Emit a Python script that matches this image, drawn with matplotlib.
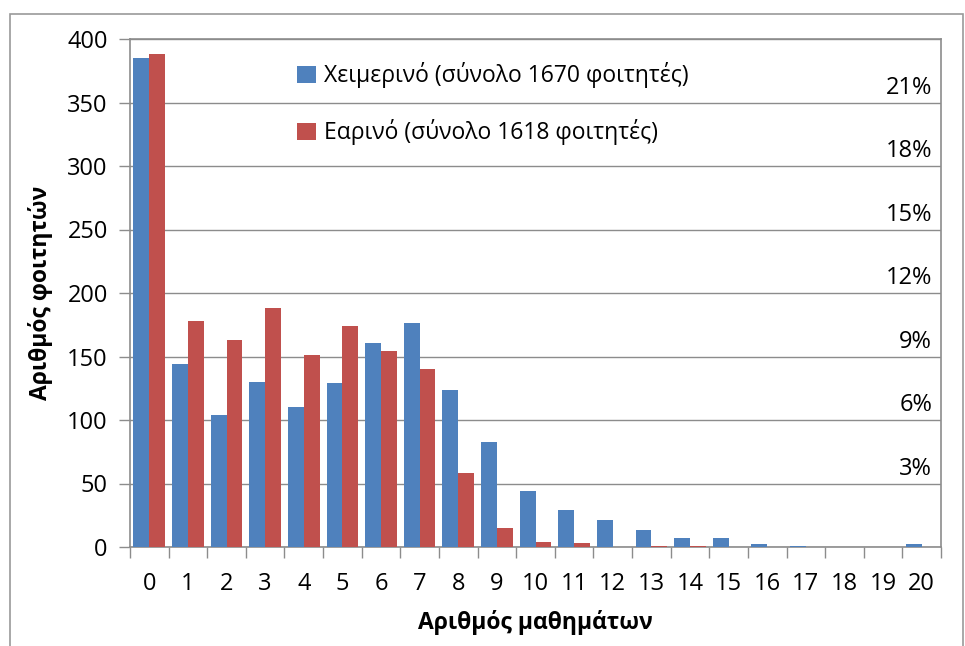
import numpy as np
import matplotlib
matplotlib.use("Agg")
import matplotlib.pyplot as plt
from matplotlib.patches import Rectangle

plt.rcParams['font.family'] = ['Open Sans', 'DejaVu Sans']

# number of courses (x categories)
courses = list(range(21))

# students per number of courses
winter = [385, 144, 104, 130, 110, 129, 161, 176, 124, 83, 44,
          29, 21, 13, 7, 7, 2, 1, 0, 0, 2]
spring = [388, 178, 163, 188, 151, 174, 154, 140, 58, 15, 4,
          3, 0, 1, 1, 0, 0, 0, 0, 0, 0]

winter_label = "Χειμερινό (σύνολο 1670 φοιτητές)"
spring_label = "Εαρινό (σύνολο 1618 φοιτητές)"

# percentage annotations sitting on the gridlines
pct_levels = [350, 300, 250, 200, 150, 100, 50]
pct_labels = ["21%", "18%", "15%", "12%", "9%", "6%", "3%"]

blue = "#4F81BD"
red = "#C0504D"
grey = "#8C8C8C"

fig = plt.figure(figsize=(9.65, 6.46), dpi=100)
ax = fig.add_axes([130 / 965, 1 - 547 / 646, 811 / 965, 508 / 646])

# outer chart frame
fig.patches.append(Rectangle((10 / 965, -0.01), 953 / 965, 1 - 14 / 646 + 0.01,
                             transform=fig.transFigure, fill=False,
                             edgecolor="#9A9A9A", linewidth=1.2))

x = np.arange(len(courses))
w = 0.41
ax.bar(x - w / 2, winter, width=w, color=blue, label=winter_label, zorder=3)
ax.bar(x + w / 2, spring, width=w, color=red, label=spring_label, zorder=3)

ax.set_xlim(-0.5, len(courses) - 0.5)
ax.set_ylim(0, 400)
ax.set_yticks(np.arange(0, 401, 50))
ax.set_xticks(x)
ax.set_xticklabels([str(c) for c in courses])
ax.set_xticks(np.arange(-0.5, len(courses), 1), minor=True)
ax.tick_params(axis='x', which='major', length=0, pad=18, labelsize=17)
ax.tick_params(axis='x', which='minor', length=8, color=grey, width=1)
ax.tick_params(axis='y', length=8, color=grey, width=1, pad=8, labelsize=17)

ax.grid(axis='y', color=grey, linewidth=1, zorder=0)
for s in ax.spines.values():
    s.set_color(grey)
    s.set_linewidth(1.2)

ax.set_ylabel("Αριθμός φοιτητών", fontsize=16.5, fontweight='bold', labelpad=10)
ax.set_xlabel("Αριθμός μαθημάτων", fontsize=16.5, fontweight='bold', labelpad=10)

for lvl, lab in zip(pct_levels, pct_labels):
    ax.text(0.989, lvl + 2, lab, transform=ax.get_yaxis_transform(),
            ha='right', va='bottom', fontsize=17, zorder=4)

ax.legend(loc='upper left', bbox_to_anchor=(0.195, 0.972), frameon=False,
          fontsize=16.5, labelspacing=1.35, handlelength=0.8, handleheight=0.8,
          handletextpad=0.35, borderaxespad=0)

fig.savefig("out.png", dpi=100)
